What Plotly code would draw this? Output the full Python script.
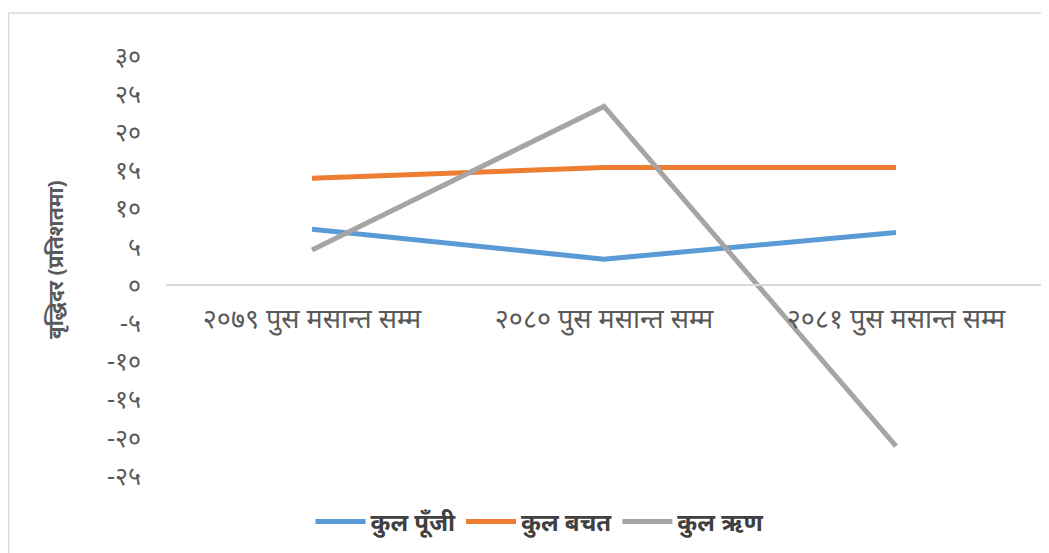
import plotly.graph_objects as go

categories = ["२०७९ पुस मसान्त सम्म", "२०८० पुस मसान्त सम्म", "२०८१ पुस मसान्त सम्म"]
series_names = ["कुल पूँजी", "कुल बचत", "कुल ऋण"]
capital = [7.3, 3.4, 6.9]
savings = [14.0, 15.4, 15.4]
loan = [4.6, 23.4, -21.1]
colors = ["#5B9BD5", "#ED7D31", "#A5A5A5"]
y_tick_vals = [30, 25, 20, 15, 10, 5, 0, -5, -10, -15, -20, -25]
y_tick_text = ["३०", "२५", "२०", "१५", "१०", "५", "०", "-५", "-१०", "-१५", "-२०", "-२५"]
y_title = "वृद्धिदर (प्रतिशतमा)"

# page has an 8px body margin; figure sized so it fills the window
W, H = 1041, 545
L, R, T, B = 158, 7, 48, 77
pw, ph = W - L - R, H - T - B
ymin, ymax = -25, 30

fig = go.Figure()
for name, vals, c in zip(series_names, [capital, savings, loan], colors):
    fig.add_trace(go.Scatter(x=categories, y=vals, name=name, mode="lines",
                             line=dict(color=c, width=5)))

font = "Noto Sans, DejaVu Sans, sans-serif"
fig.update_layout(
    width=W, height=H,
    margin=dict(l=L, r=R, t=T, b=B),
    plot_bgcolor="white", paper_bgcolor="white",
    font=dict(family=font, color="#595959", size=16),
    showlegend=True,
    legend=dict(orientation="h", x=(532 - L) / pw, xanchor="center",
                y=(H - B - 514) / ph, yanchor="middle",
                font=dict(size=24, color="#404040", weight="bold"),
                itemwidth=50),
    xaxis=dict(type="category", range=[-0.5, 2.5], anchor="free",
               position=(0 - ymin) / (ymax - ymin),
               showline=True, linecolor="#D9D9D9", linewidth=1.5,
               showgrid=False, ticks="", tickfont=dict(size=27, color="#595959"),
               ticklabelstandoff=10),
    yaxis=dict(range=[ymin, ymax], tickvals=y_tick_vals, ticktext=y_tick_text,
               showgrid=False, zeroline=False, showline=False, ticks="",
               ticklabelstandoff=24, tickfont=dict(size=25, color="#595959")),
)

fig.add_annotation(text=y_title, xref="paper", yref="paper",
                   x=(47 - L) / pw, y=(H - B - 252) / ph, textangle=-90,
                   showarrow=False, xanchor="center", yanchor="middle",
                   font=dict(size=21, color="#595959", weight="bold"))

fig.add_shape(type="rect", xref="paper", yref="paper",
              x0=(0.5 - L) / pw, x1=(W + 10 - L) / pw,
              y0=(H - B - (H + 10)) / ph, y1=(H - B - 5) / ph,
              line=dict(color="#D9D9D9", width=1.5), layer="below")

fig.write_html("out.html")
